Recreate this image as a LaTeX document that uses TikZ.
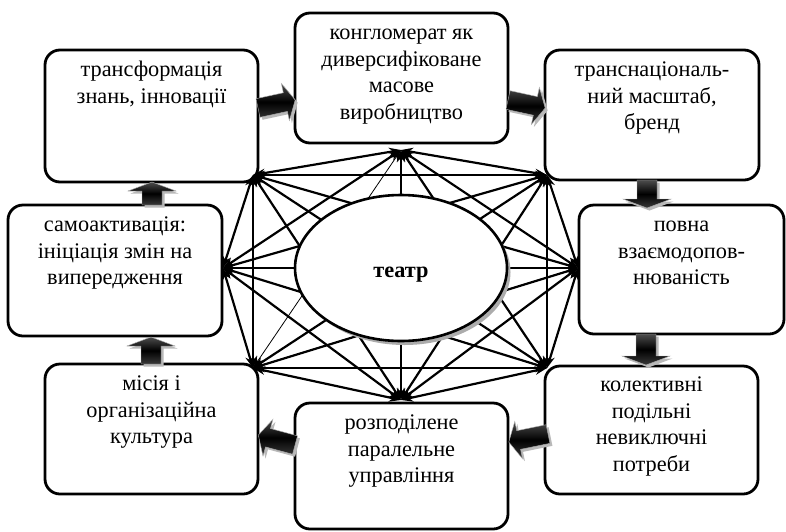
\documentclass[tikz,border=0pt]{standalone}
\usepackage{fontspec}
\setmainfont{Liberation Serif}
\usetikzlibrary{arrows.meta,shapes.geometric}
\newcommand\fatarrow[7]{% x, y, angle, length, shaft half-width, head half-width, head length
  \begin{scope}[shift={({#1+2.5},{#2+2.5})},rotate=#3]
    \fill[gray!55] (0,-#5) -- ({#4-#7},-#5) -- ({#4-#7},-#6) -- (#4,0) -- ({#4-#7},#6) -- ({#4-#7},#5) -- (0,#5) -- cycle;
  \end{scope}
  \begin{scope}[shift={(#1,#2)},rotate=#3]
    \shade[top color=gray!60!black, bottom color=gray!45!black, middle color=black, draw=gray!60, line width=0.4pt]
      (0,-#5) -- ({#4-#7},-#5) -- ({#4-#7},-#6) -- (#4,0) -- ({#4-#7},#6) -- ({#4-#7},#5) -- (0,#5) -- cycle;
  \end{scope}}
\begin{document}
\begin{tikzpicture}[x=1pt,y=-1pt,
  box/.style={draw, line width=2.8pt, rounded corners=15pt, fill=white, inner sep=0pt},
  lbl/.style={anchor=north, align=center, inner sep=0pt, font=\fontsize{22.3}{26.5}\selectfont},
  >={Stealth[length=12pt,width=8.5pt]},
  link/.style={line width=2.2pt,<->},
  thinlink/.style={line width=0.8pt,<->}]
\useasboundingbox (0,0) rectangle (786,531);
\fill[white] (0,0) rectangle (786,531);
% boxes
\node[box, minimum width=213pt, minimum height=130pt] (b1) at (401.5,78) {};
\node[box, minimum width=213pt, minimum height=132pt] (b2) at (151.5,116) {};
\node[box, minimum width=214pt, minimum height=130pt] (b3) at (652,115) {};
\node[box, minimum width=205pt, minimum height=129pt] (b4) at (681.5,269.5) {};
\node[box, minimum width=213pt, minimum height=128pt] (b5) at (651.5,430) {};
\node[box, minimum width=213pt, minimum height=126pt] (b6) at (401.5,466) {};
\node[box, minimum width=213pt, minimum height=130pt] (b7) at (151.5,429) {};
\node[box, minimum width=214pt, minimum height=131pt] (b8) at (115,270.5) {};
% fat arrows between boxes
\fatarrow{258}{108}{12.2}{38}{9.5}{19}{10}
\fatarrow{508}{100}{-12.2}{38}{9.5}{19}{10}
\fatarrow{647}{180}{-90}{28}{10}{24}{9}
\fatarrow{646}{334}{-90}{31}{10}{24}{9}
\fatarrow{548}{434}{-168.4}{40}{9.5}{19}{10}
\fatarrow{295}{445}{164.9}{38}{9.5}{19}{10}
\fatarrow{151}{364}{90}{27}{10}{24}{9}
\fatarrow{152}{205}{90}{23}{10}{24}{9}
% hubs
\coordinate (h1) at (401,150);
\coordinate (h2) at (253,175);
\coordinate (h3) at (547,175);
\coordinate (h4) at (578,268);
\coordinate (h5) at (547,368);
\coordinate (h6) at (401,400);
\coordinate (h7) at (253,368);
\coordinate (h8) at (223,268);
\foreach \a/\b in {h1/h2,h1/h3,h1/h4,h1/h5,h1/h6,h1/h8,
                   h2/h3,h2/h4,h2/h5,h2/h6,h2/h7,h2/h8,
                   h3/h4,h3/h5,h3/h6,h3/h7,h3/h8,
                   h4/h5,h4/h6,h4/h7,h4/h8,
                   h5/h6,h5/h7,h5/h8,
                   h6/h7,h6/h8,
                   h7/h8}
  \draw[link] (\a) -- (\b);
\draw[thinlink] (h1) -- (h7);
% centre ellipse with shadow
\fill[gray!65] (404.5,272) ellipse [x radius=106, y radius=73];
\node[draw, ellipse, line width=2.6pt, fill=white, minimum width=212pt, minimum height=146pt, inner sep=0pt] (th) at (401,268) {};
\node[font=\bfseries\fontsize{22.3}{26.5}\selectfont, inner sep=0pt] (thl) at (401,275) {театр};
% texts
\node[lbl] (t1) at (401.5,21) {\strut конгломерат як\\диверсифіковане\\масове\\виробництво};
\node[lbl] (t2) at (151.5,58) {\strut трансформація\\знань, інновації};
\node[lbl] (t3) at (652,58) {\strut транснаціональ-\\ний масштаб,\\бренд};
\node[lbl] (t4) at (681.5,213) {\strut повна\\взаємодопов-\\нюваність};
\node[lbl] (t5) at (651.5,373) {\strut колективні\\подільні\\невиключні\\потреби};
\node[lbl] (t6) at (401.5,411) {\strut розподілене\\паралельне\\управління};
\node[lbl] (t7) at (151.5,372) {\strut місія і\\організаційна\\культура};
\node[lbl] (t8) at (115,213) {\strut самоактивація:\\ініціація змін на\\випередження};
\end{tikzpicture}
\end{document}
